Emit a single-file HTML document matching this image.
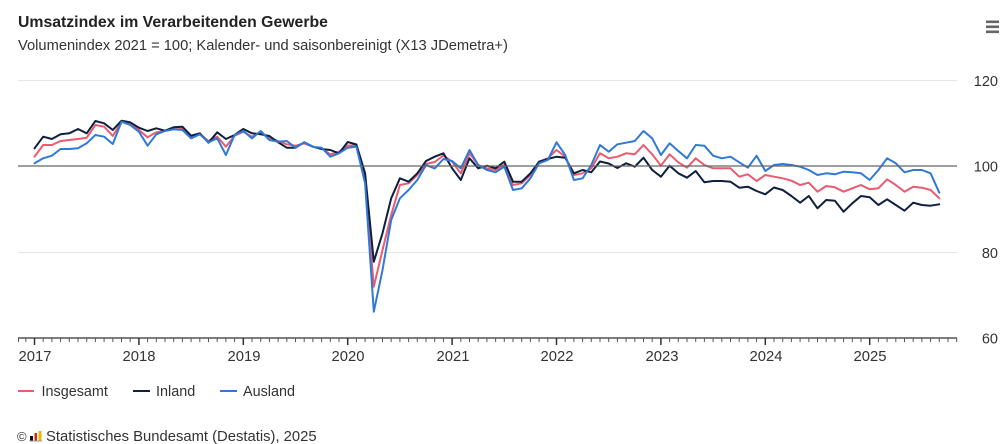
<!DOCTYPE html>
<html>
<head>
<meta charset="utf-8">
<style>
  html,body{margin:0;padding:0;background:#fff;}
  body{width:1000px;height:444px;overflow:hidden;font-family:"Liberation Sans",sans-serif;}
  svg{display:block;}
  .t{font-family:"Liberation Sans",sans-serif;fill:#333;}
  .s{fill:none;stroke-width:2;stroke-linejoin:round;stroke-linecap:round;}
</style>
</head>
<body>
<svg width="1000" height="444" viewBox="0 0 1000 444" xmlns="http://www.w3.org/2000/svg">
  <rect x="0" y="0" width="1000" height="444" fill="#fff"/>
  <text x="18" y="27" class="t" style="font-size:15.8px;font-weight:bold;fill:#222">Umsatzindex im Verarbeitenden Gewerbe</text>
  <text x="18" y="50" class="t" style="font-size:14.7px;">Volumenindex 2021 = 100; Kalender- und saisonbereinigt (X13 JDemetra+)</text>

  <!-- hamburger -->
  <rect x="986" y="20.5" width="13" height="2.6" fill="#666"/>
  <rect x="986" y="25.5" width="13" height="2.6" fill="#666"/>
  <rect x="986" y="30.5" width="13" height="2.6" fill="#666"/>

  <!-- grid -->
  <line x1="18" y1="80.5" x2="957" y2="80.5" stroke="#e6e6e6" stroke-width="1"/>
  <line x1="18" y1="252.5" x2="957" y2="252.5" stroke="#e6e6e6" stroke-width="1"/>

  <!-- y labels -->
  <g class="t" style="font-size:14.5px;" text-anchor="end">
    <text x="998" y="86">120</text>
    <text x="998" y="171.5">100</text>
    <text x="998" y="258">80</text>
    <text x="998" y="343.5">60</text>
  </g>

  <!-- series -->
  <g transform="translate(34.5,0) scale(8.7,1)">
    <polyline class="s" stroke="#ea5b6f" vector-effect="non-scaling-stroke" points="0,156.7 1,145 2,145 3,141 4,140 5,139 6,137.7 7,125 8,126.7 9,136 10,121.7 11,124 12,130 13,137.3 14,132.3 15,130.7 16,129.3 17,129 18,137.3 19,134.3 20,141 21,136.7 22,146.7 23,135.7 24,131.7 25,136.7 26,132.3 27,138.3 28,141 29,144.3 30,145.7 31,143.3 32,146.7 33,148.3 34,154.3 35,151.7 36,145.5 37,145.5 38,180 39,286.7 40,250 41,215 42,185 43,183.3 44,175 45,164 46,162 47,155.5 48,161.7 49,173.3 50,153.3 51,165 52,168.3 53,170 54,165 55,185 56,183.3 57,175 58,161.7 59,158.3 60,150 61,156.7 62,175 63,173.3 64,168.3 65,153.3 66,158.3 67,156.7 68,153.3 69,154.3 70,145 71,154.3 72,165.7 73,154.3 74,162.3 75,167.7 76,158.3 77,165 78,168.3 79,168.3 80,168.3 81,176.7 82,174.3 83,181 84,175 85,176.7 86,178.3 87,180.7 88,185 89,182.7 90,191.7 91,186 92,187.3 93,191.7 94,188.3 95,185 96,189.3 97,188.3 98,179.3 99,185 100,191.7 101,186.7 102,187.7 103,190 104,198.3"/>
    <polyline class="s" stroke="#0e1f3f" vector-effect="non-scaling-stroke" points="0,148.3 1,136.7 2,139 3,134.3 4,133.3 5,129 6,133.3 7,121 8,123.3 9,130 10,120.7 11,122.3 12,127.7 13,131 14,128.3 15,130.7 16,127.3 17,126.7 18,135.7 19,133.3 20,142.7 21,132.3 22,139 23,135 24,129 25,133.3 26,134.3 27,136 28,142.3 29,147.7 30,147.7 31,142.3 32,146.7 33,149 34,150 35,153.3 36,142 37,144.5 38,173.3 39,261.7 40,233.3 41,198.3 42,178.3 43,181.7 44,173.3 45,161 46,156.7 47,153.3 48,168.3 49,180 50,158.3 51,168.3 52,165.7 53,168.3 54,161.7 55,181.7 56,181.7 57,173.3 58,161.7 59,159 60,156.7 61,157.7 62,173.3 63,170 64,172.3 65,161.5 66,163.5 67,168 68,163.3 69,166.7 70,157.7 71,170 72,176.7 73,165.7 74,173.3 75,177.7 76,171 77,182.3 78,181 79,181 80,181.7 81,187.7 82,186.7 83,191 84,194.3 85,187.5 86,190 87,196 88,202.7 89,196 90,208.3 91,200 92,200.7 93,211.7 94,203.3 95,196 96,197.3 97,205 98,199.3 99,205 100,210.7 101,202.7 102,205 103,205.7 104,204.3"/>
    <polyline class="s" stroke="#3079d6" vector-effect="non-scaling-stroke" points="0,163.3 1,158.3 2,155.7 3,149 4,149 5,148.3 6,143.3 7,135 8,136.7 9,144 10,121.7 11,125 12,131.7 13,145.7 14,134.3 15,131 16,129.3 17,130 18,138.3 19,134.3 20,142.3 21,138.3 22,155 23,135 24,131 25,138.3 26,131 27,140 28,141.7 29,141 30,147.7 31,142.3 32,146.7 33,147.7 34,156.7 35,153.3 36,147.7 37,146.7 38,183.3 39,311.7 40,270 41,220 42,198.3 43,190 44,180 45,165 46,168.5 47,159 48,161 49,168.3 50,150 51,165 52,170 53,172.3 54,166.7 55,190 56,188.3 57,178.3 58,163.3 59,160 60,142.3 61,155 62,180 63,178.3 64,165 65,145 66,151.7 67,144.3 68,142.7 69,141 70,131 71,138.3 72,155 73,143.3 74,151 75,158.3 76,145 77,145.7 78,155.7 79,158.3 80,156.7 81,162.3 82,167.7 83,155.7 84,171 85,165 86,164 87,165 88,166.7 89,170 90,175 91,173.3 92,174.3 93,171.7 94,172.3 95,173.3 96,180 97,170 98,158.3 99,163.3 100,172.3 101,170 102,170 103,173.3 104,192.7"/>
  </g>

  <!-- 100 reference line -->
  <line x1="18" y1="166" x2="957" y2="166" stroke="#666" stroke-width="1.2"/>

  <!-- x axis -->
  <line x1="18" y1="338" x2="957" y2="338" stroke="#333" stroke-width="1.2"/>
  <g stroke="#555" stroke-width="1">
    <line x1="18.5" y1="338" x2="18.5" y2="342"/>
    <line x1="25.8" y1="338" x2="25.8" y2="342"/>
  </g>
  <g transform="translate(34.5,0) scale(8.7,1)" stroke="#555">
    <path vector-effect="non-scaling-stroke" stroke-width="1" d="M1,338V342M2,338V342M3,338V342M4,338V342M5,338V342M6,338V342M7,338V342M8,338V342M9,338V342M10,338V342M11,338V342M13,338V342M14,338V342M15,338V342M16,338V342M17,338V342M18,338V342M19,338V342M20,338V342M21,338V342M22,338V342M23,338V342M25,338V342M26,338V342M27,338V342M28,338V342M29,338V342M30,338V342M31,338V342M32,338V342M33,338V342M34,338V342M35,338V342M37,338V342M38,338V342M39,338V342M40,338V342M41,338V342M42,338V342M43,338V342M44,338V342M45,338V342M46,338V342M47,338V342M49,338V342M50,338V342M51,338V342M52,338V342M53,338V342M54,338V342M55,338V342M56,338V342M57,338V342M58,338V342M59,338V342M61,338V342M62,338V342M63,338V342M64,338V342M65,338V342M66,338V342M67,338V342M68,338V342M69,338V342M70,338V342M71,338V342M73,338V342M74,338V342M75,338V342M76,338V342M77,338V342M78,338V342M79,338V342M80,338V342M81,338V342M82,338V342M83,338V342M85,338V342M86,338V342M87,338V342M88,338V342M89,338V342M90,338V342M91,338V342M92,338V342M93,338V342M94,338V342M95,338V342M97,338V342M98,338V342M99,338V342M100,338V342M101,338V342M102,338V342M103,338V342M104,338V342M105,338V342M106,338V342"/>
    <path vector-effect="non-scaling-stroke" stroke-width="1.5" stroke="#333" d="M0,338V345M12,338V345M24,338V345M36,338V345M48,338V345M60,338V345M72,338V345M84,338V345M96,338V345"/>
  </g>
  <g class="t" style="font-size:14.8px;" text-anchor="middle">
    <text x="35" y="361">2017</text>
    <text x="139" y="361">2018</text>
    <text x="244" y="361">2019</text>
    <text x="348" y="361">2020</text>
    <text x="453" y="361">2021</text>
    <text x="557" y="361">2022</text>
    <text x="662" y="361">2023</text>
    <text x="766" y="361">2024</text>
    <text x="870" y="361">2025</text>
  </g>

  <!-- legend -->
  <line x1="18" y1="391" x2="34" y2="391" stroke="#ea5b6f" stroke-width="2"/>
  <text x="41.5" y="396" class="t" style="font-size:14.4px;">Insgesamt</text>
  <line x1="133" y1="391" x2="150" y2="391" stroke="#0e1f3f" stroke-width="2"/>
  <text x="156" y="396" class="t" style="font-size:14.4px;">Inland</text>
  <line x1="220" y1="391" x2="237" y2="391" stroke="#3079d6" stroke-width="2"/>
  <text x="243" y="396" class="t" style="font-size:14.4px;">Ausland</text>

  <!-- footer -->
  <text x="17" y="441" class="t" style="font-size:13px;">©</text>
  <rect x="30" y="436" width="3" height="5" fill="#111"/>
  <rect x="34.5" y="433" width="2.5" height="8" fill="#e2231a"/>
  <rect x="38.5" y="431" width="3" height="10" fill="#f2b500"/>
  <rect x="29.5" y="440.5" width="12.5" height="1" fill="#999"/>
  <text x="46" y="441" class="t" style="font-size:14.8px;">Statistisches Bundesamt (Destatis), 2025</text>
</svg>
</body>
</html>
